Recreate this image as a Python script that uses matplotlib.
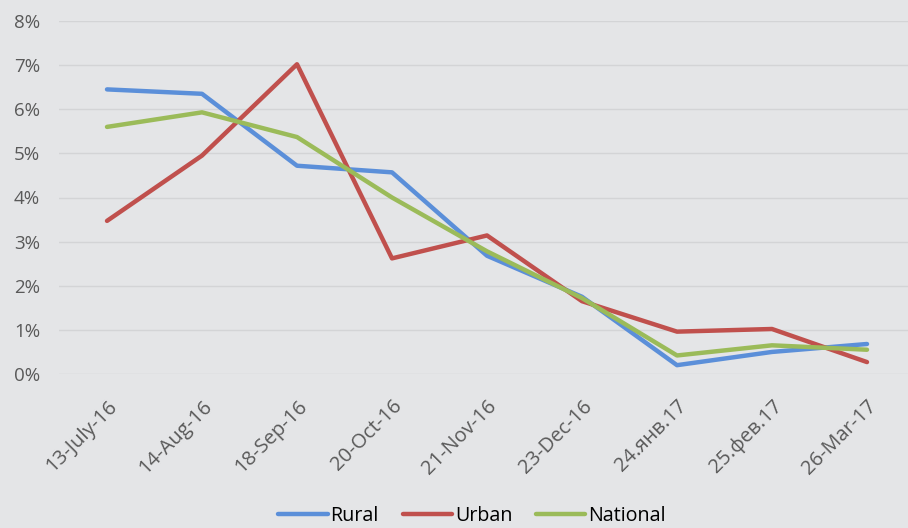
import matplotlib.pyplot as plt
from matplotlib.ticker import FuncFormatter

# data (percent)
dates = ["13-July-16", "14-Aug-16", "18-Sep-16", "20-Oct-16", "21-Nov-16",
         "23-Dec-16", "24.янв.17", "25.фев.17", "26-Mar-17"]
rural = [6.45, 6.35, 4.72, 4.57, 2.68, 1.75, 0.20, 0.50, 0.68]
urban = [3.47, 4.95, 7.02, 2.62, 3.14, 1.65, 0.96, 1.02, 0.27]
national = [5.60, 5.93, 5.37, 4.00, 2.78, 1.72, 0.42, 0.65, 0.55]

plt.rcParams['font.family'] = ['Open Sans', 'DejaVu Sans']

bg = '#e4e5e7'
fig = plt.figure(figsize=(9.08, 5.28), dpi=100, facecolor=bg)
ax = fig.add_axes([59.5 / 908, 1 - 374 / 528, 855 / 908, 353 / 528], facecolor=bg)

x = range(len(dates))
ax.plot(x, rural, color='#5b8fd9', lw=3.2, label='Rural', solid_capstyle='round')
ax.plot(x, urban, color='#c0504d', lw=3.2, label='Urban', solid_capstyle='round')
ax.plot(x, national, color='#9bbb59', lw=3.2, label='National', solid_capstyle='round')

ax.set_xlim(-0.5, len(dates) - 0.5)
ax.set_ylim(0, 8)
ax.set_yticks(range(0, 9))
ax.yaxis.set_major_formatter(FuncFormatter(lambda v, p: f"{v:.0f}%"))
ax.grid(axis='y', color='#d3d4d6', lw=1)
ax.set_axisbelow(True)
for s in ax.spines.values():
    s.set_visible(False)
ax.tick_params(length=0, labelcolor='#595959')
ax.tick_params(axis='y', pad=14, labelsize=13.5)
ax.tick_params(axis='x', pad=16, labelsize=14.5)
ax.set_xticks(list(x))
ax.set_xticklabels(dates, rotation=45, ha='right', rotation_mode='anchor')

leg = fig.legend(loc='lower center', bbox_to_anchor=(0.52, -0.03), ncol=3,
                 frameon=False, fontsize=14.2, handlelength=2.5,
                 handletextpad=0.15, columnspacing=1.2)

fig.savefig('out.png', dpi=100, facecolor=bg)
